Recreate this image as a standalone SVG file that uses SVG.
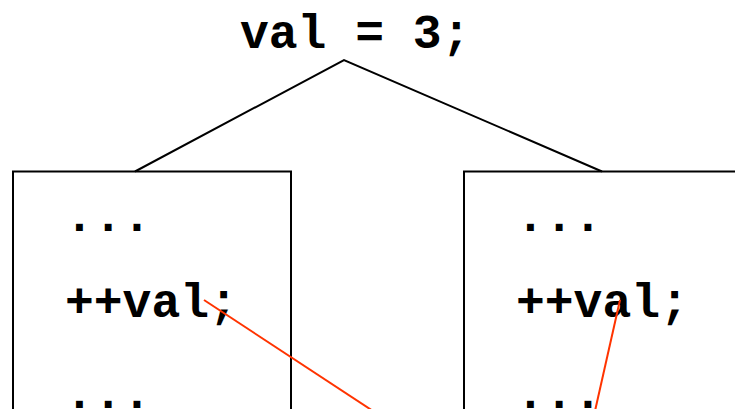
<svg xmlns="http://www.w3.org/2000/svg" width="735" height="409" viewBox="0 0 735 409">
<style>
text{font-family:"Liberation Mono","Courier New",monospace;font-weight:bold;font-size:48px;fill:#000}
.box{fill:none;stroke:#000;stroke-width:2}
.edge{fill:none;stroke:#000;stroke-width:2}
.red{fill:none;stroke:#ff3300;stroke-width:2}
</style>
<rect width="735" height="409" fill="#fff"/>
<g id="root"><text x="240" y="48">val = 3;</text></g>
<g id="left">
<rect class="box" x="13" y="171.5" width="278" height="300"/>
<text x="65" y="231">...</text>
<text x="65" y="317">++val;</text>
<text x="65" y="408">...</text>
</g>
<g id="right">
<rect class="box" x="464" y="171.5" width="340" height="300"/>
<text x="516" y="231">...</text>
<text x="516" y="317">++val;</text>
<text x="516" y="408">...</text>
</g>
<g id="connectors">
<polyline class="edge" points="135,171.5 344,60 602,171.5"/>
<line class="red" x1="204" y1="300" x2="373" y2="411"/>
<line class="red" x1="620" y1="300" x2="595" y2="411"/>
</g>
</svg>
